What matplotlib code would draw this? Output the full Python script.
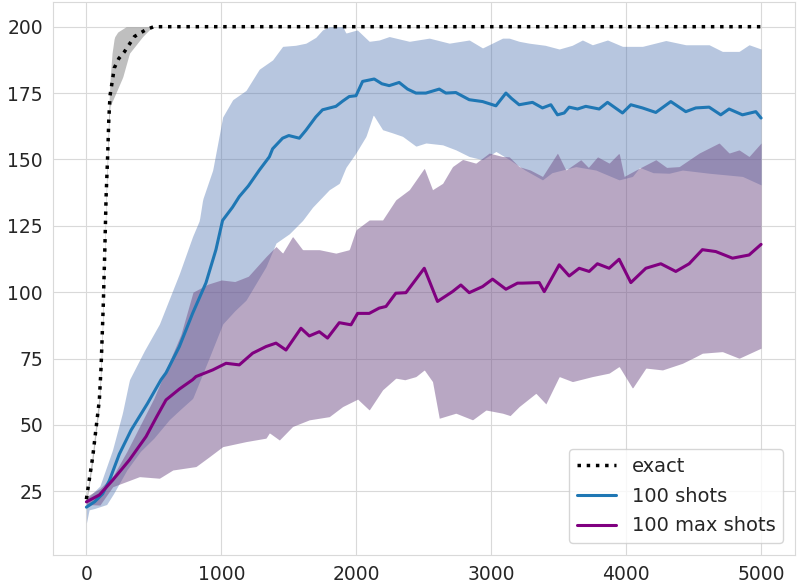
import numpy as np
import matplotlib
matplotlib.use("Agg")
import matplotlib.pyplot as plt
import seaborn as sns

# exact (mean + band)
ex_x = [0, 10, 47, 96, 109, 125, 136, 146, 158, 166, 175, 207, 240, 281, 356, 442, 500, 5000]
ex_mean = [22, 25.5, 38, 59.4, 72, 95, 115, 136, 152, 165, 174, 184.5, 188, 190.5, 196.3, 198.9, 200, 200]
ex_up_x = [0, 47, 96, 109, 125, 136, 146, 158, 166, 175, 190, 207, 232, 294, 5000]
ex_up = [23, 40, 62, 75, 98, 118, 139, 156, 170, 180, 190, 196, 198, 200, 200]
ex_lo_x = [0, 47, 96, 109, 125, 136, 146, 158, 166, 175, 207, 269, 319, 417, 479, 520, 5000]
ex_lo = [20, 36, 57, 69, 92, 112, 133, 149, 161, 170, 173.7, 181, 190, 196.3, 199.5, 200, 200]

# 100 shots
s_x = [0, 60, 120, 170, 244, 331, 452, 553, 590, 689, 787, 886, 960, 1009, 1083, 1133, 1200,
       1282, 1356, 1380, 1454, 1500, 1578, 1627, 1700, 1750, 1849, 1900, 1948, 1998, 2047, 2133,
       2190, 2244, 2318, 2380, 2442, 2516, 2615, 2664, 2738, 2837, 2936, 3035, 3109, 3150, 3207,
       3306, 3380, 3442, 3491, 3541, 3578, 3640, 3701, 3800, 3862, 3973, 4035, 4121, 4220, 4331,
       4442, 4516, 4615, 4701, 4763, 4862, 4961, 5000]
s_mean = [19, 21, 24, 29, 39, 48, 58, 67, 69.6, 79.5, 92, 103.5, 116, 127, 132, 136, 140,
          146, 151, 154, 158, 159, 158, 161, 166, 168.7, 170, 172, 173.7, 174, 179.4, 180.3,
          178.5, 177.8, 179, 176.5, 175, 175, 176.5, 175, 175.2, 172.5, 171.8, 170.2, 175, 173, 170.6,
          171.5, 169.4, 170.6, 166.8, 167.5, 169.7, 169, 170, 169, 171.5, 167.5, 170.6, 169.4, 167.7, 171.8,
          168, 169.4, 169.7, 166.8, 169, 166.8, 168, 165.6]
s_up_x = [0, 100, 193, 267, 319, 430, 541, 689, 787, 837, 862, 936, 1010, 1084, 1183, 1281, 1380,
          1454, 1550, 1627, 1700, 1750, 1800, 1900, 1923, 2007, 2096, 2170, 2244, 2393, 2541, 2689,
          2837, 2936, 3084, 3133, 3207, 3281, 3400, 3504, 3600, 3676, 3750, 3862, 3973, 4121, 4294,
          4442, 4615, 4713, 4837, 4911, 5000]
s_up = [22, 27, 40.5, 54.5, 67, 78, 88, 107, 121, 127, 135, 146, 166, 172.5, 176, 184, 187.5,
        192.6, 193, 193.8, 196, 198.8, 200, 200, 197.6, 198.8, 194.5, 195, 196.3, 194.5, 195.7, 193.8,
        195, 192, 195.7, 195.7, 194.5, 193.8, 193, 191.6, 193, 195, 193.2, 195, 192.6, 192.6, 194.8,
        193.2, 193.2, 190.7, 190.7, 193.2, 191.6]
s_lo_x = [0, 20, 60, 150, 200, 300, 400, 500, 615, 700, 788, 900, 1010, 1100, 1183, 1331, 1405,
          1504, 1602, 1676, 1800, 1874, 1923, 1997, 2072, 2126, 2195, 2269, 2343, 2442, 2516, 2640,
          2738, 2837, 2936, 3035, 3133, 3250, 3380, 3450, 3627, 3775, 3948, 4047, 4100, 4200, 4319,
          4417, 4615, 4862, 5000]
s_lo = [13, 18, 18.5, 20, 24, 33, 40, 45, 52, 56, 60, 74, 88, 93, 97, 109.6, 118.5,
        122, 127, 132, 138.6, 141, 147, 152.4, 158.7, 166.8, 161.2, 160, 158.7, 155, 156.2, 155.5,
        153.6, 151.1, 149.9, 153, 150, 146, 142.3, 145, 147.3, 146, 142.3, 143.6, 147, 145, 144.8,
        146, 144.8, 143.6, 140.4]

# 100 max shots
m_x = [0, 96, 195, 319, 442, 520, 590, 689, 787, 812, 936, 1035, 1133, 1232, 1331, 1405, 1479,
       1590, 1652, 1726, 1787, 1874, 1961, 2010, 2096, 2170, 2220, 2293, 2368, 2504, 2602, 2713,
       2775, 2837, 2936, 3010, 3109, 3195, 3232, 3356, 3393, 3504, 3578, 3652, 3726, 3787, 3874,
       3948, 4035, 4146, 4257, 4368, 4467, 4565, 4664, 4788, 4911, 5000]
m_mean = [21, 23.6, 29.2, 36.8, 45.6, 53, 59.4, 63.5, 67, 68.2, 70.7, 73.2, 72.6, 77, 79.5, 80.8, 78.2,
          86.4, 83.5, 85.1, 82.7, 88.5, 87.7, 92, 92, 94, 94.6, 99.6, 99.8, 109, 96.5, 100.2,
          102.7, 99.8, 102.1, 104.9, 101.1, 103.4, 103.4, 103.6, 100.2, 110.3, 106.1, 109, 107.8, 110.7, 109,
          112.4, 103.6, 109, 110.7, 107.8, 110.7, 116, 115.3, 112.8, 114, 118]
m_up_x = [0, 100, 200, 300, 400, 500, 600, 700, 790, 900, 1000, 1100, 1200, 1331, 1405, 1454, 1528,
          1602, 1726, 1849, 1948, 1998, 2096, 2195, 2293, 2393, 2504, 2565, 2640, 2713, 2788, 2886,
          2985, 3084, 3133, 3207, 3290, 3380, 3491, 3553, 3664, 3720, 3788, 3874, 3948, 3985, 4072,
          4220, 4300, 4393, 4541, 4689, 4763, 4837, 4911, 5000]
m_up = [23, 26, 31, 40, 50, 60, 72, 84, 100, 103, 104.6, 104, 106, 113.4, 117.2, 114.7, 121,
        116, 116, 114.7, 116, 123.5, 127.2, 127.2, 134.8, 138.6, 146.7, 138.6, 141, 147.3, 150, 148.6,
        152.4, 151.1, 151, 147.3, 146, 143.6, 152.4, 146, 149.9, 147, 151, 148.6, 152.4, 143.6, 146,
        149.9, 147, 147.3, 152.4, 156.2, 152.4, 153.6, 151.1, 156.2]
m_lo_x = [0, 100, 195, 393, 541, 640, 812, 911, 1010, 1183, 1331, 1356, 1430, 1528, 1652, 1800, 1899,
          2010, 2096, 2195, 2293, 2360, 2442, 2504, 2565, 2615, 2738, 2862, 2961, 3084, 3140, 3207,
          3331, 3405, 3504, 3602, 3750, 3874, 3948, 4047, 4146, 4269, 4417, 4516, 4565, 4713, 4837, 5000]
m_lo = [20, 19.8, 26.7, 30.5, 29.9, 33, 34.3, 38, 41.8, 43.7, 45, 47, 44.3, 49.4, 51.9, 53.1, 56.9,
        59.7, 55.6, 63.2, 67.6, 67, 68.2, 70.7, 66.3, 52.5, 54.4, 51.9, 55.6, 54.4, 53.5, 56.9,
        61.9, 57.9, 68.2, 66.3, 68.2, 69.5, 72, 63.8, 71.4, 70.7, 73.2, 75.7, 77, 77.6, 75.1, 78.9]

sns.set_style("whitegrid", {"grid.color": ".85", "axes.edgecolor": ".85"})
fig, ax = plt.subplots(figsize=(7.98, 5.86), dpi=100)
fig.subplots_adjust(left=0.066, right=0.996, bottom=0.053, top=0.997)

# bands (edges read at different x, put on one common grid for fill_between)
xx = np.arange(0, 5001, 5)
ax.fill_between(xx, np.interp(xx, ex_lo_x, ex_lo), np.interp(xx, ex_up_x, ex_up),
                color="gray", alpha=0.5, lw=0)
ax.fill_between(xx, np.interp(xx, s_lo_x, s_lo), np.interp(xx, s_up_x, s_up),
                color="#4c72b0", alpha=0.4, lw=0)
ax.fill_between(xx, np.interp(xx, m_lo_x, m_lo), np.interp(xx, m_up_x, m_up),
                color="#735189", alpha=0.5, lw=0)

ax.plot(ex_x, ex_mean, ":", color="black", lw=2.5, label="exact")
ax.plot(s_x, s_mean, color="#1f77b4", lw=2.2, label="100 shots")
ax.plot(m_x, m_mean, color="purple", lw=2.2, label="100 max shots")

ax.set_xlim(-250, 5250)
ax.set_ylim(1, 209.4)
ax.set_yticks([25, 50, 75, 100, 125, 150, 175, 200])
ax.set_xticks([0, 1000, 2000, 3000, 4000, 5000])
ax.tick_params(labelsize=13.5)
ax.legend(loc="lower right", fontsize=14, labelspacing=0.55, borderaxespad=0.6)

fig.savefig("out.png")
